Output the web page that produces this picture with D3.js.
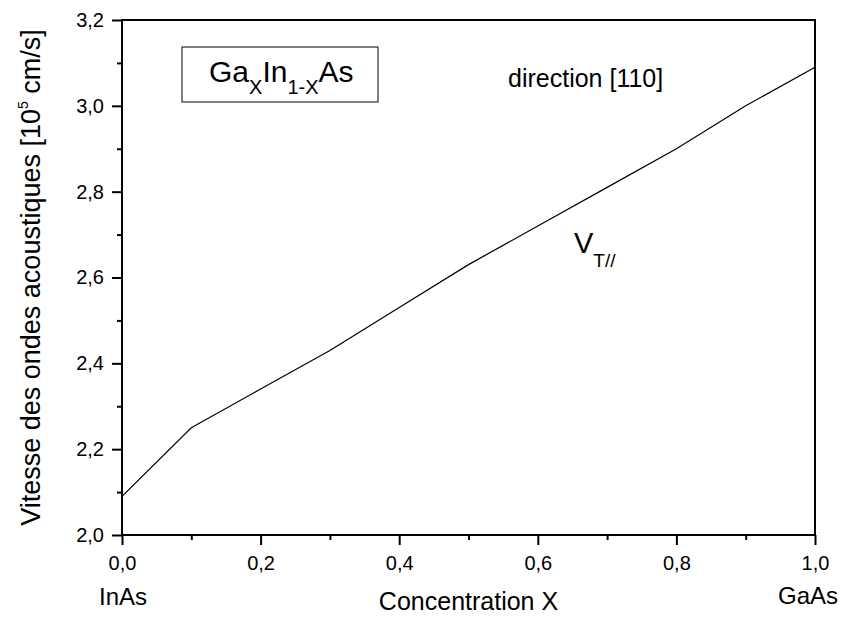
<!DOCTYPE html>
<html lang="en">
<head>
  <meta charset="UTF-8">
  <title>GaxIn1-xAs acoustic velocity</title>
  <script src="https://d3js.org/d3.v7.min.js"></script>
  <style>
    body { margin: 0; background: #fff; }
    svg { font-family: "Liberation Sans", Arial, sans-serif; }
  </style>
</head>
<body>
  <svg width="843" height="619"></svg>

  <script>
    // Data
    const concentration = [0.0, 0.1, 0.2, 0.3, 0.4, 0.5, 0.6, 0.7, 0.8, 0.9, 1.0];
    const velocity = [2.09, 2.25, 2.34, 2.43, 2.53, 2.63, 2.72, 2.81, 2.90, 3.00, 3.09];
    const xTicks = [0, 0.2, 0.4, 0.6, 0.8, 1.0];
    const xMinor = [0.1, 0.3, 0.5, 0.7, 0.9];
    const yTicks = [2.0, 2.2, 2.4, 2.6, 2.8, 3.0, 3.2];
    const yMinor = [2.1, 2.3, 2.5, 2.7, 2.9, 3.1];

    const data = concentration.map((c, i) => ({ x: c, y: velocity[i] }));

    const svg = d3.select("svg"),
          margin = { top: 20, right: 28, bottom: 84, left: 122 },
          width = +svg.attr("width") - margin.left - margin.right,
          height = +svg.attr("height") - margin.top - margin.bottom,
          g = svg.append("g").attr("transform", "translate(" + margin.left + "," + margin.top + ")");

    const x = d3.scaleLinear().domain([0, 1]).range([0, width]);
    const y = d3.scaleLinear().domain([2.0, 3.2]).range([height, 0]);

    const comma = d => d3.format(".1f")(d).replace(".", ",");

    // minor ticks
    g.append("g")
      .attr("transform", "translate(0," + height + ")")
      .call(d3.axisBottom(x).tickValues(xMinor).tickSize(5).tickSizeOuter(0).tickFormat(""))
      .call(a => a.select(".domain").remove());
    g.append("g")
      .call(d3.axisLeft(y).tickValues(yMinor).tickSize(5).tickSizeOuter(0).tickFormat(""))
      .call(a => a.select(".domain").remove());

    // major ticks
    const xAxis = g.append("g")
      .attr("transform", "translate(0," + height + ")")
      .call(d3.axisBottom(x).tickValues(xTicks).tickSize(10).tickSizeOuter(0).tickPadding(11).tickFormat(comma));
    const yAxis = g.append("g")
      .call(d3.axisLeft(y).tickValues(yTicks).tickSize(10).tickSizeOuter(0).tickPadding(8).tickFormat(comma));

    [xAxis, yAxis].forEach(a => {
      a.selectAll("text").style("font-size", "20px").attr("fill", "#000");
      a.select(".domain").remove();
    });
    g.selectAll(".tick line").attr("stroke", "#000").attr("stroke-width", 2);

    // frame
    g.append("rect")
      .attr("width", width)
      .attr("height", height)
      .attr("fill", "none")
      .attr("stroke", "#000")
      .attr("stroke-width", 2);

    // the curve
    const line = d3.line()
      .x(d => x(d.x))
      .y(d => y(d.y));

    g.append("path")
      .datum(data)
      .attr("fill", "none")
      .attr("stroke", "#000")
      .attr("stroke-width", 1.2)
      .attr("d", line);

    // legend box
    svg.append("rect")
      .attr("x", 182).attr("y", 47)
      .attr("width", 196).attr("height", 55)
      .attr("fill", "#fff")
      .attr("stroke", "#000")
      .attr("stroke-width", 1);

    const leg = svg.append("text")
      .attr("x", 209).attr("y", 82)
      .style("font-size", "30px");
    leg.append("tspan").text("Ga");
    leg.append("tspan").attr("dy", 12).style("font-size", "20px").text("X");
    leg.append("tspan").attr("dy", -12).text("In");
    leg.append("tspan").attr("dy", 12).style("font-size", "20px").text("1-X");
    leg.append("tspan").attr("dy", -12).text("As");

    svg.append("text")
      .attr("x", 508).attr("y", 87)
      .style("font-size", "25px")
      .text("direction [110]");

    const vt = svg.append("text")
      .attr("x", 574).attr("y", 253)
      .style("font-size", "29px");
    vt.append("tspan").text("V");
    vt.append("tspan").attr("dy", 14).style("font-size", "19px").text("T//");

    // axis titles
    svg.append("text")
      .attr("x", margin.left + width / 2)
      .attr("y", 610)
      .attr("text-anchor", "middle")
      .style("font-size", "25px")
      .text("Concentration X");

    svg.append("text")
      .attr("x", 123).attr("y", 605)
      .attr("text-anchor", "middle")
      .style("font-size", "24px")
      .text("InAs");

    svg.append("text")
      .attr("x", 808).attr("y", 604)
      .attr("text-anchor", "middle")
      .style("font-size", "24px")
      .text("GaAs");

    const yl = svg.append("text")
      .attr("transform", "translate(40," + (margin.top + height / 2) + ") rotate(-90)")
      .attr("text-anchor", "middle")
      .style("font-size", "27px");
    yl.append("tspan").text("Vitesse des ondes acoustiques [10");
    yl.append("tspan").attr("dy", -12).style("font-size", "14px").text("5");
    yl.append("tspan").attr("dy", 12).text(" cm/s]");
  </script>
</body>
</html>
